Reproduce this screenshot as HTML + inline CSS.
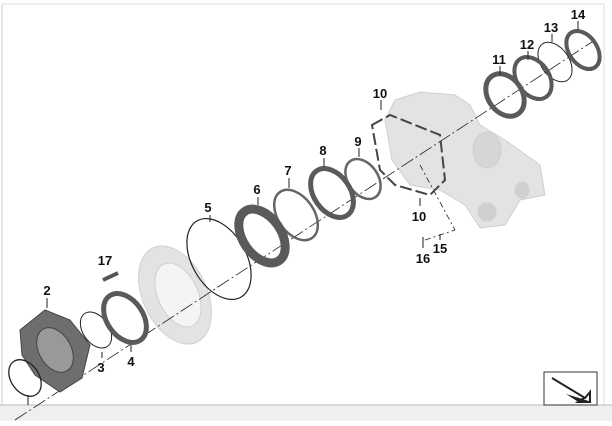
<!DOCTYPE html>
<html><head><style>
body{margin:0;background:#fff;}
svg text{font-family:"Liberation Sans",sans-serif;font-weight:bold;font-size:13px;fill:#111;text-anchor:middle}
</style></head><body>
<svg width="612" height="421" viewBox="0 0 612 421" xmlns="http://www.w3.org/2000/svg">
<rect x="0" y="0" width="612" height="421" fill="#fff"/>
<line x1="2" y1="4" x2="2" y2="405" stroke="#ccc"/>
<line x1="2" y1="4" x2="604" y2="4" stroke="#ddd"/>
<line x1="604" y1="4" x2="604" y2="405" stroke="#ddd"/>
<rect x="0" y="405" width="612" height="16" fill="#efefef"/>
<line x1="0" y1="405" x2="612" y2="405" stroke="#bbb"/>
<!-- housing -->
<g fill="#e3e3e3" stroke="#cfcfcf">
<path d="M395,100 L420,92 L455,95 L470,105 L480,125 L505,140 L540,165 L545,195 L520,200 L505,225 L480,228 L465,205 L440,190 L410,185 L392,160 L385,120 Z"/>
<ellipse cx="487" cy="150" rx="14" ry="18" fill="#d6d6d6"/>
<ellipse cx="487" cy="212" rx="9" ry="9" fill="#d0d0d0"/>
<ellipse cx="522" cy="190" rx="7" ry="8" fill="#d0d0d0"/>
<ellipse cx="175" cy="295" rx="32" ry="52" transform="rotate(-25 175 295)"/>
<ellipse cx="178" cy="295" rx="20" ry="34" transform="rotate(-25 178 295)" fill="#f4f4f4"/>
</g>
<!-- axis -->
<line x1="15" y1="420" x2="595" y2="40" stroke="#222" stroke-width="0.8" stroke-dasharray="14,3,2,3"/>
<line x1="420" y1="165" x2="455" y2="230" stroke="#222" stroke-width="0.8" stroke-dasharray="6,3,2,3"/>
<line x1="425" y1="240" x2="455" y2="230" stroke="#222" stroke-width="0.8" stroke-dasharray="6,3,2,3"/>
<!-- flange 2 -->
<path d="M20,330 L45,310 L70,320 L90,345 L82,378 L60,392 L35,375 L22,355 Z" fill="#6e6e6e" stroke="#444"/>
<ellipse cx="55" cy="350" rx="16" ry="24" transform="rotate(-30 55 350)" fill="#999" stroke="#444"/>
<!-- rings -->
<g fill="none" stroke="#222" stroke-width="1.3">
<ellipse cx="25" cy="378" rx="14" ry="20" transform="rotate(-35 25 378)"/>
<ellipse cx="96" cy="330" rx="13" ry="20" transform="rotate(-35 96 330)" stroke-width="1"/>
<ellipse cx="219" cy="259" rx="27" ry="44" transform="rotate(-30 219 259)" stroke-width="1.2"/>
<ellipse cx="296" cy="215" rx="18" ry="28" transform="rotate(-35 296 215)" stroke-width="2.5" stroke="#666"/>
<ellipse cx="363" cy="179" rx="15" ry="22" transform="rotate(-35 363 179)" stroke-width="2.5" stroke="#666"/>
<ellipse cx="555" cy="62" rx="14" ry="22" transform="rotate(-35 555 62)" stroke-width="1"/>
<path d="M372,125 L390,115 L440,135 L445,180 L430,195 L395,185 L380,170 Z" stroke="#444" stroke-width="2" stroke-dasharray="12,4"/>
</g>
<g fill="none" stroke="#5a5a5a">
<ellipse cx="125" cy="318" rx="18" ry="27" transform="rotate(-35 125 318)" stroke-width="5"/>
<ellipse cx="262" cy="236" rx="19" ry="30" transform="rotate(-35 262 236)" stroke-width="9"/>
<ellipse cx="332" cy="193" rx="18" ry="27" transform="rotate(-35 332 193)" stroke-width="5"/>
<ellipse cx="505" cy="95" rx="17" ry="23" transform="rotate(-35 505 95)" stroke-width="5"/>
<ellipse cx="533" cy="78" rx="16" ry="23" transform="rotate(-35 533 78)" stroke-width="4"/>
<ellipse cx="583" cy="50" rx="14" ry="21" transform="rotate(-35 583 50)" stroke-width="4"/>
</g>
<!-- bolt 17 -->
<line x1="103" y1="280" x2="118" y2="273" stroke="#555" stroke-width="4"/>
<!-- leaders -->
<g stroke="#222" stroke-width="1">
<line x1="47" y1="298" x2="47" y2="308"/><line x1="102" y1="352" x2="102" y2="358"/>
<line x1="131" y1="345" x2="131" y2="352"/><line x1="210" y1="215" x2="210" y2="222"/>
<line x1="258" y1="197" x2="258" y2="205"/><line x1="289" y1="178" x2="289" y2="188"/>
<line x1="324" y1="158" x2="324" y2="167"/><line x1="359" y1="148" x2="359" y2="157"/>
<line x1="381" y1="100" x2="381" y2="110"/><line x1="420" y1="198" x2="420" y2="206"/>
<line x1="500" y1="66" x2="500" y2="75"/><line x1="528" y1="51" x2="528" y2="60"/>
<line x1="552" y1="34" x2="552" y2="42"/><line x1="578" y1="21" x2="578" y2="30"/>
<line x1="440" y1="234" x2="440" y2="240"/><line x1="423" y1="237" x2="423" y2="248"/>
<line x1="28" y1="395" x2="28" y2="405"/>
</g>
<text x="47" y="295">2</text><text x="105" y="265">17</text><text x="101" y="372">3</text>
<text x="131" y="366">4</text><text x="208" y="212">5</text><text x="257" y="194">6</text>
<text x="288" y="175">7</text><text x="323" y="155">8</text><text x="358" y="146">9</text>
<text x="380" y="98">10</text><text x="419" y="221">10</text><text x="499" y="64">11</text>
<text x="527" y="49">12</text><text x="551" y="32">13</text><text x="578" y="19">14</text>
<text x="440" y="253">15</text><text x="423" y="263">16</text>
<!-- icon -->
<rect x="544" y="372" width="53" height="33" fill="#fff" stroke="#333"/>
<path d="M552,378 L585,398 L590,392 L590,402 L578,402 L584,398" fill="none" stroke="#222" stroke-width="2"/>
<path d="M566,394 L592,402 L580,403 Z" fill="#222"/>
</svg>
</body></html>
